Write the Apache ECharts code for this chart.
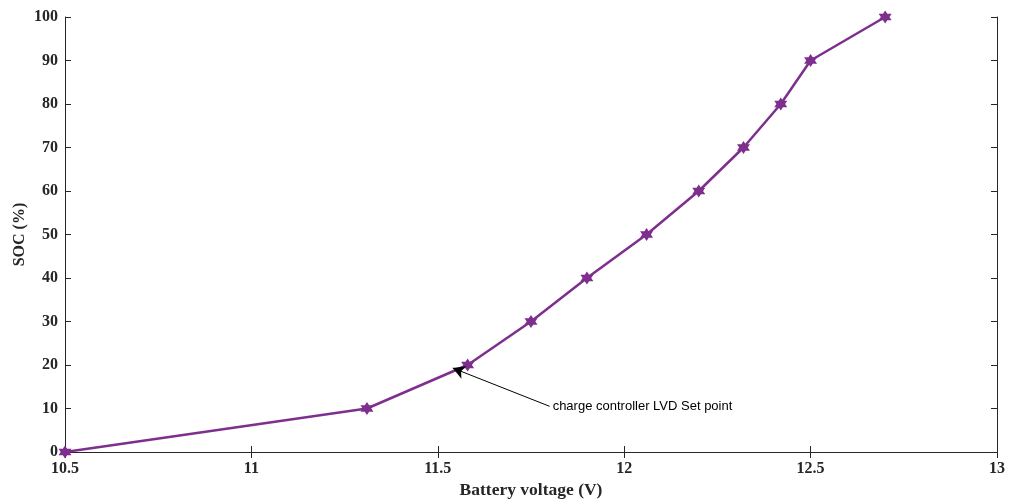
<!DOCTYPE html>
<html>
<head>
<meta charset="utf-8">
<script src="https://cdn.jsdelivr.net/npm/echarts@6/dist/echarts.min.js"></script>
<style>
html,body{margin:0;padding:0;background:#fff;}
#main{width:1009px;height:500px;}
</style>
</head>
<body>
<div id="main"></div>
<script>
// battery voltage (V) vs state of charge (%)
var voltage = [10.5, 11.31, 11.58, 11.75, 11.90, 12.06, 12.20, 12.32, 12.42, 12.50, 12.70];
var soc = [0, 10, 20, 30, 40, 50, 60, 70, 80, 90, 100];
// annotation: arrow from text to the LVD point
var noteText = 'charge controller LVD Set point';
var noteFrom = [11.80, 10.5];
var noteTo = [11.54, 19.3];

var chart = echarts.init(document.getElementById('main'));

var hexagram = 'path://M0,-10L2.9,-5L8.66,-5L5.77,0L8.66,5L2.9,5L0,10L-2.9,5L-8.66,5L-5.77,0L-8.66,-5L-2.9,-5Z';
var axisCol = '#262626';
var lblFont = {fontFamily: 'Liberation Serif', fontWeight: 'bold', fontSize: 16, color: axisCol};

var pts = voltage.map(function (v, i) { return [v, soc[i]]; });

var option = {
    animation: false,
    grid: {left: 65, right: 12, top: 17, bottom: 48, outerBoundsMode: 'none', containLabel: false},
    xAxis: [{
        type: 'value', min: 10.5, max: 13, interval: 0.5,
        name: 'Battery voltage (V)', nameLocation: 'middle', nameGap: 29, nameMoveOverlap: false,
        nameTextStyle: {fontFamily: 'Liberation Serif', fontWeight: 'bold', fontSize: 17.5, color: axisCol},
        axisLine: {lineStyle: {color: axisCol, width: 1}},
        axisTick: {inside: true, length: 6, lineStyle: {color: axisCol}},
        axisLabel: Object.assign({margin: 9}, lblFont),
        splitLine: {show: false}
    }, {
        type: 'value', min: 10.5, max: 13, interval: 0.5, position: 'top',
        axisLine: {show: true, lineStyle: {color: axisCol, width: 1}},
        axisTick: {inside: true, length: 6, lineStyle: {color: axisCol}},
        axisLabel: {show: false}, splitLine: {show: false}
    }],
    yAxis: [{
        type: 'value', min: 0, max: 100, interval: 10,
        name: 'SOC (%)', nameLocation: 'middle', nameGap: 37, nameMoveOverlap: false,
        nameTextStyle: {fontFamily: 'Liberation Serif', fontWeight: 'bold', fontSize: 16, color: axisCol},
        axisLine: {show: true, lineStyle: {color: axisCol, width: 1}},
        axisTick: {show: true, inside: true, length: 6, lineStyle: {color: axisCol}},
        axisLabel: Object.assign({margin: 7}, lblFont),
        splitLine: {show: false}
    }, {
        type: 'value', min: 0, max: 100, interval: 10, position: 'right',
        axisLine: {show: true, lineStyle: {color: axisCol, width: 1}},
        axisTick: {show: true, inside: true, length: 6, lineStyle: {color: axisCol}},
        axisLabel: {show: false}, splitLine: {show: false}
    }],
    series: [{
        type: 'line',
        data: pts,
        symbol: hexagram,
        symbolSize: 13,
        lineStyle: {color: '#7E2F8E', width: 2.5},
        itemStyle: {color: '#7E2F8E'},
        markLine: {
            silent: true,
            symbol: ['none', 'arrow'],
            symbolSize: [10, 12],
            lineStyle: {color: '#000', width: 1, type: 'solid'},
            label: {show: false},
            data: [[{coord: noteFrom}, {coord: noteTo}]]
        },
        markPoint: {
            silent: true,
            symbol: 'circle',
            symbolSize: 0,
            label: {
                show: true, position: 'right', distance: 3,
                formatter: noteText,
                fontFamily: 'Liberation Sans', fontSize: 13, color: '#000'
            },
            data: [{coord: noteFrom}]
        }
    }]
};
chart.setOption(option);
</script>
</body>
</html>
